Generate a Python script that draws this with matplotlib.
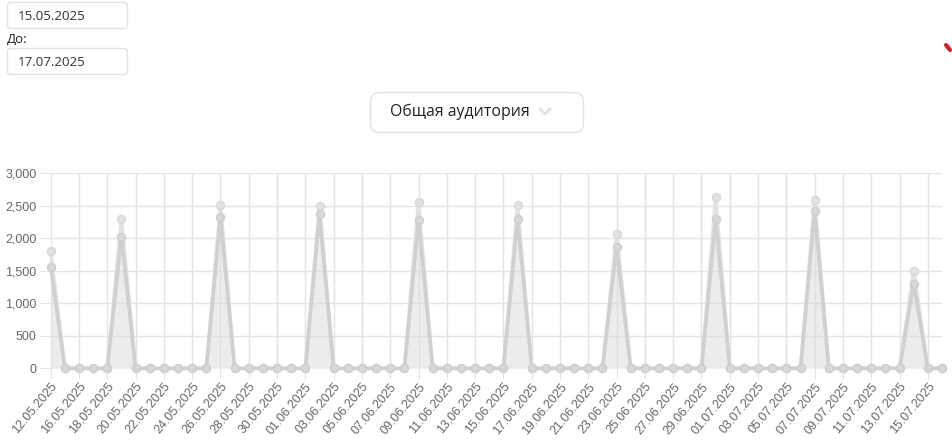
import numpy as np
import matplotlib
matplotlib.use("Agg")
import matplotlib.pyplot as plt
from matplotlib.patches import FancyBboxPatch
from datetime import date, timedelta

# categories: 12.05, then every day 15.05 .. 16.07
dates = [date(2025, 5, 12)] + [date(2025, 5, 15) + timedelta(days=i) for i in range(63)]
labels = [d.strftime("%d.%m.%Y") for d in dates]

# weekly peaks (Mondays), everything else zero
peak_idx = [0, 5, 12, 19, 26, 33, 40, 47, 54, 61]
peak_top = [1800, 2300, 2510, 2500, 2560, 2510, 2065, 2630, 2585, 1500]
peak_low = [1560, 2025, 2335, 2375, 2280, 2300, 1860, 2290, 2420, 1300]

top_vals = np.zeros(len(dates))
low_vals = np.zeros(len(dates))
top_vals[peak_idx] = peak_top
low_vals[peak_idx] = peak_low

W, H = 952, 441
fig = plt.figure(figsize=(W / 100, H / 100), dpi=100)

ax = fig.add_axes([50.7 / W, 1 - 368.3 / H, (942 - 50.7) / W, (368.3 - 173.3) / H])
x = np.arange(len(dates))

ax.fill_between(x, top_vals, color="#dcdcdc", alpha=0.25, lw=0, zorder=2)
ax.fill_between(x, low_vals, color="#dcdcdc", alpha=0.35, lw=0, zorder=2)
ax.plot(x, top_vals, color="#e2e2e2", lw=2.6, marker="o", ms=5.8,
        mfc="#e2e2e2", mec="#d8d8d8", mew=1, clip_on=False, zorder=3)
ax.plot(x, low_vals, color="#d0d0d0", lw=2.6, marker="o", ms=5.8,
        mfc="#d8d8d8", mec="#cdcdcd", mew=1, clip_on=False, zorder=4)

ax.set_xlim(0, len(dates) - 1)
ax.set_ylim(0, 3000)
ax.set_yticks(np.arange(0, 3001, 500))
ax.set_yticklabels([f"{v:,}" for v in range(0, 3001, 500)])
ax.set_xticks(x[::2])
ax.set_xticklabels(labels[::2], rotation=50, ha="right", rotation_mode="anchor")
ax.grid(True, color="#e3e3e3", lw=1, zorder=0)
ax.set_axisbelow(True)
for s in ax.spines.values():
    s.set_visible(False)
ax.tick_params(axis="both", length=8, color="#e3e3e3", labelcolor="#666666",
               labelsize=9, pad=2)
ax.tick_params(axis="x", pad=1)
for t in ax.get_xticklabels() + ax.get_yticklabels():
    t.set_family("Liberation Sans")

# page controls around the chart, in pixel coordinates
ov = fig.add_axes([0, 0, 1, 1], zorder=-1)
ov.set_xlim(0, W)
ov.set_ylim(H, 0)
ov.axis("off")

def box(x0, y0, w, h, r):
    ov.add_patch(FancyBboxPatch((x0, y0), w, h, boxstyle=f"round,pad=0,rounding_size={r}",
                                fc="white", ec="#e2e2e2", lw=1))

box(7.5, 2.5, 120, 26, 3)
ov.text(18, 16, "15.05.2025", fontsize=9.6, family="Open Sans", color="#333333", va="center")
ov.text(7, 39, "До:", fontsize=9.5, family="Open Sans", color="#222222", va="center")
box(7.5, 48.5, 120, 26, 3)
ov.text(18, 62, "17.07.2025", fontsize=9.6, family="Open Sans", color="#333333", va="center")

box(370.5, 92.5, 213, 40, 9)
ov.text(390, 112, "Общая аудитория", fontsize=11.4, family="Open Sans", color="#222222", va="center")
ov.plot([540, 545, 550], [109, 114, 109], color="#e0e0e0", lw=1.8)

ov.plot([946, 950], [45, 50], color="#d62020", lw=3, solid_capstyle="round")

fig.savefig("out.png", dpi=100)
